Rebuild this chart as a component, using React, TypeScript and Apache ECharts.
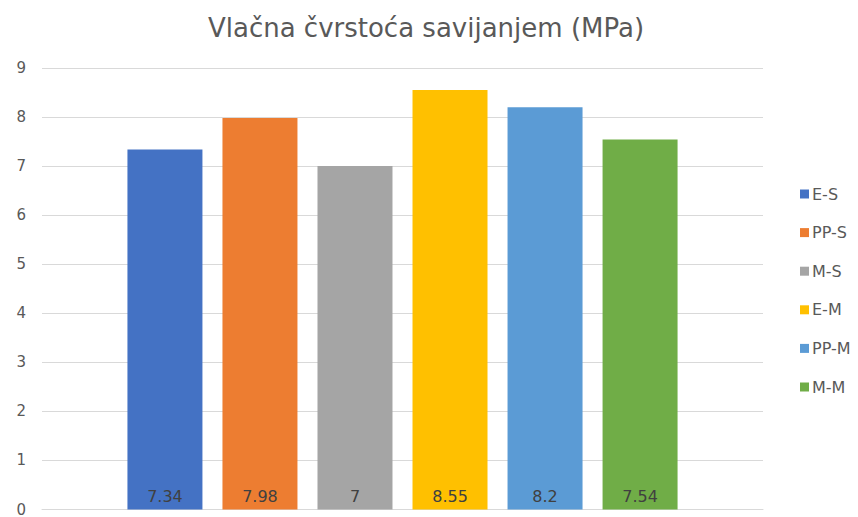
import React, { useEffect, useRef } from "react";
import * as echarts from "echarts";

const title = "Vlačna čvrstoća savijanjem (MPa)";
const seriesNames = ["E-S", "PP-S", "M-S", "E-M", "PP-M", "M-M"];
const seriesValues = [7.34, 7.98, 7, 8.55, 8.2, 7.54];
const seriesColors = ["#4472C4", "#ED7D31", "#A5A5A5", "#FFC000", "#5B9BD5", "#70AD47"];
const categories = [""];

const FONT = "'DejaVu Sans', sans-serif";

export default function App() {
  const ref = useRef<HTMLDivElement>(null);
  useEffect(() => {
    if (!ref.current) return;
    const chart = echarts.init(ref.current, null, { renderer: "svg" });
    chart.setOption({
      animation: false,
      backgroundColor: "#ffffff",
      textStyle: { fontFamily: FONT },
      title: {
        text: title,
        left: 421,
        top: 10,
        textAlign: "center",
        textStyle: { fontSize: 26, fontWeight: "normal", color: "#595959", fontFamily: FONT },
      },
      legend: {
        orient: "vertical",
        left: 795,
        top: 181,
        itemWidth: 9,
        itemHeight: 9,
        itemGap: 22.6,
        icon: "rect",
        data: seriesNames,
        textStyle: {
          fontSize: 16,
          lineHeight: 16,
          color: "#595959",
          fontFamily: FONT,
          padding: [0, 0, 0, -2],
        },
      },
      grid: { left: 42, right: 95, top: 68, bottom: 5, containLabel: false },
      xAxis: {
        type: "category",
        data: categories,
        axisLine: { show: true, lineStyle: { color: "#d9d9d9" } },
        axisTick: { show: false },
        axisLabel: { show: false },
      },
      yAxis: {
        type: "value",
        min: 0,
        max: 9,
        interval: 1,
        axisLine: { show: false },
        axisTick: { show: false },
        axisLabel: { color: "#595959", fontSize: 15, margin: 16, fontFamily: FONT },
        splitLine: { lineStyle: { color: "#d9d9d9", width: 1 } },
      },
      series: seriesNames.map((name, i) => ({
        name,
        type: "bar",
        data: [seriesValues[i]],
        barWidth: 75,
        barGap: "26.7%",
        itemStyle: { color: seriesColors[i] },
        label: {
          show: true,
          position: "insideBottom",
          distance: 5,
          fontSize: 16,
          color: "#404040",
          fontFamily: FONT,
          formatter: (p: any) => String(p.value),
        },
      })),
    });
    return () => chart.dispose();
  }, []);
  return (
    <div
      ref={ref}
      style={{ position: "fixed", left: 0, top: 0, width: 858, height: 517 }}
    />
  );
}
